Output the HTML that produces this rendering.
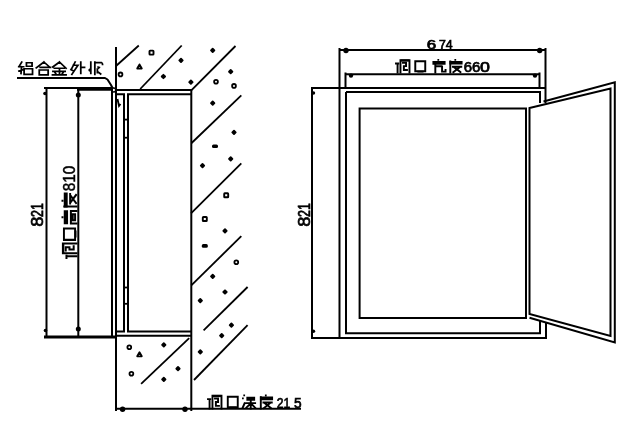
<!DOCTYPE html>
<html><head><meta charset="utf-8"><style>
html,body{margin:0;padding:0;background:#fff;}
svg{display:block;will-change:transform;}
text{font-family:"Liberation Sans",sans-serif;fill:#000;}
</style></head><body>
<svg width="640" height="444" viewBox="0 0 640 444" stroke="#000" stroke-width="2">
<rect x="0" y="0" width="640" height="444" fill="#fff" stroke="none"/>
<path transform="translate(18,61.3) scale(0.9375,0.8750)" d="M4,0.8 L1,6 M0.8,6.2 H6 M3.8,6.2 L3.2,14 M1,11 L5.5,9.5 M9,1.7 H15 V5.6 H9 Z M6.5,8.5 H15.5 V15 H6.5 Z" fill="none" stroke="#000" stroke-width="1.876" stroke-linecap="square"/>
<path transform="translate(35.5,61.3) scale(0.9375,0.8750)" d="M9,0.8 L0.8,7.5 M9,0.8 L15,6.5 M5,7 H16 M4,10 H13.5 V15.5 H4 Z" fill="none" stroke="#000" stroke-width="1.876" stroke-linecap="square"/>
<path transform="translate(52,61.3) scale(0.9375,0.8750)" d="M8,0.8 L0.8,6.5 M8,0.8 L15,8 M2.5,8 H13 M1,11.5 H14 M8,8 V15 M3,12.5 L4.5,15 M12,12.5 L10.5,15 M0.5,15.5 H15" fill="none" stroke="#000" stroke-width="1.876" stroke-linecap="square"/>
<path transform="translate(70,61.3) scale(0.9375,0.8750)" d="M5.5,0.8 L1.5,9 M3.5,4.5 H8.5 L2,15 M1,9.5 L4,11 M11.5,0.8 V14 M11.5,7 H15.5" fill="none" stroke="#000" stroke-width="1.876" stroke-linecap="square"/>
<path transform="translate(88,61.3) scale(0.9375,0.8750)" d="M3,0.8 V14 M7.3,0.8 V15 M7.3,1.5 H14.5 Q15.5,2 15.5,3.5 M10,9 V13 M11,12.5 L13.5,14.5" fill="none" stroke="#000" stroke-width="1.876" stroke-linecap="square"/><path transform="translate(88,61.3) scale(0.9375,0.8750)" d="M0.5,9 L3,7.5 L3,12.5 L0.5,11 Z M10,5.5 L13.5,6.5 L11.5,9 L10,8 Z" fill="#000" stroke="none"/>
<path d="M17,78 H105 L107.5,79.5 L111,85 L113.5,90" fill="none" stroke-width="2" stroke-linejoin="round"/>
<line x1="44" y1="88" x2="113" y2="88" stroke-width="2"/>
<line x1="77" y1="89.5" x2="113" y2="89.5" stroke-width="2.5"/>
<line x1="113" y1="90" x2="191" y2="90" stroke-width="2"/>
<circle cx="113.8" cy="90" r="2" fill="#fff" stroke-width="1.6"/>
<line x1="46.5" y1="88" x2="46.5" y2="338" stroke-width="2"/>
<line x1="78.3" y1="88" x2="78.3" y2="338" stroke-width="2"/>
<circle cx="45" cy="93.5" r="1.8" fill="#000" stroke="none"/>
<circle cx="78.3" cy="95" r="2.5" fill="#000" stroke="none"/>
<circle cx="45.5" cy="330.5" r="1.8" fill="#000" stroke="none"/>
<circle cx="78.3" cy="329" r="2.5" fill="#000" stroke="none"/>
<line x1="44" y1="337" x2="116" y2="337" stroke-width="3"/>
<line x1="112" y1="89" x2="112" y2="337" stroke-width="2"/>
<line x1="116" y1="47" x2="116" y2="411" stroke-width="2"/>
<path d="M116,94.2 H124 V331.6 H116" fill="none"/>
<path d="M191,94.2 H128 V331.6 H191" fill="none"/>
<line x1="116" y1="335.8" x2="192" y2="335.8" stroke-width="2"/>
<line x1="191.3" y1="89" x2="191.3" y2="411" stroke-width="2"/>
<line x1="123" y1="119.6" x2="129" y2="119.6" stroke-width="1.8"/>
<line x1="123" y1="137.7" x2="129" y2="137.7" stroke-width="1.8"/>
<line x1="123" y1="287.5" x2="129" y2="287.5" stroke-width="1.8"/>
<line x1="123" y1="303.8" x2="129" y2="303.8" stroke-width="1.8"/>
<path d="M117.5,99 L119,106 L120.5,104" fill="none" stroke-width="1.8"/>
<line x1="115" y1="408.7" x2="301" y2="408.7" stroke-width="2"/>
<circle cx="122.6" cy="409.2" r="2.7" fill="#000" stroke="none"/>
<circle cx="185" cy="409.2" r="2.7" fill="#000" stroke="none"/>
<line x1="116" y1="66" x2="138.8" y2="45.5" stroke-width="1.8"/>
<line x1="140.2" y1="89" x2="181.7" y2="45.5" stroke-width="1.8"/>
<line x1="191.3" y1="90.4" x2="235.5" y2="46" stroke-width="1.8"/>
<line x1="191.6" y1="143" x2="241.3" y2="95.3" stroke-width="1.8"/>
<line x1="191" y1="213.3" x2="241.3" y2="163.3" stroke-width="1.8"/>
<line x1="191.3" y1="285.3" x2="241.3" y2="236.2" stroke-width="1.8"/>
<line x1="203.6" y1="330.4" x2="247.6" y2="287" stroke-width="1.8"/>
<line x1="194" y1="380" x2="247.6" y2="325.2" stroke-width="1.8"/>
<line x1="141.1" y1="383.8" x2="189.2" y2="338.2" stroke-width="1.8"/>
<rect x="149.5" y="50.6" width="4" height="4" rx="0.6" fill="none" stroke-width="1.9"/>
<path d="M139.5,64.39999999999999 L141.8,68.5 H137.2 Z" fill="none" stroke-width="1.8" stroke-linejoin="round"/>
<circle cx="120.5" cy="74.4" r="1.9" fill="none" stroke-width="1.8"/>
<rect x="161.3" y="74.4" width="4.2" height="4.2" rx="0.9" transform="rotate(45 163.4 76.5)" fill="#000" stroke="none"/>
<rect x="178.9" y="58.199999999999996" width="4.2" height="4.2" rx="0.9" transform="rotate(45 181 60.3)" fill="#000" stroke="none"/>
<rect x="188.8" y="80.0" width="4.2" height="4.2" rx="0.9" transform="rotate(45 190.9 82.1)" fill="#000" stroke="none"/>
<rect x="210.6" y="48.199999999999996" width="4.2" height="4.2" rx="0.9" transform="rotate(45 212.7 50.3)" fill="#000" stroke="none"/>
<rect x="228.6" y="69.60000000000001" width="4.2" height="4.2" rx="0.9" transform="rotate(45 230.7 71.7)" fill="#000" stroke="none"/>
<circle cx="216" cy="81.8" r="1.9" fill="none" stroke-width="1.8"/>
<circle cx="234" cy="85.9" r="1.9" fill="none" stroke-width="1.8"/>
<rect x="210.6" y="101.10000000000001" width="4.2" height="4.2" rx="0.9" transform="rotate(45 212.7 103.2)" fill="#000" stroke="none"/>
<rect x="231.9" y="130.20000000000002" width="4.2" height="4.2" rx="0.9" transform="rotate(45 234 132.3)" fill="#000" stroke="none"/>
<rect x="212" y="144.39999999999998" width="6" height="3.6" rx="1.5" fill="#000" stroke="none"/>
<rect x="200.4" y="163.5" width="4.2" height="4.2" rx="0.9" transform="rotate(45 202.5 165.6)" fill="#000" stroke="none"/>
<rect x="228.6" y="156.70000000000002" width="4.2" height="4.2" rx="0.9" transform="rotate(45 230.7 158.8)" fill="#000" stroke="none"/>
<rect x="224.2" y="193.3" width="4" height="4" rx="0.6" fill="none" stroke-width="1.9"/>
<rect x="202.8" y="217" width="4" height="4" rx="0.6" fill="none" stroke-width="1.9"/>
<rect x="222.9" y="228.70000000000002" width="4.2" height="4.2" rx="0.9" transform="rotate(45 225 230.8)" fill="#000" stroke="none"/>
<rect x="201.8" y="244.1" width="6" height="3.6" rx="1.5" fill="#000" stroke="none"/>
<circle cx="236.3" cy="262.3" r="1.9" fill="none" stroke-width="1.8"/>
<rect x="210.6" y="274.2" width="4.2" height="4.2" rx="0.9" transform="rotate(45 212.7 276.3)" fill="#000" stroke="none"/>
<rect x="222.9" y="289.9" width="4.2" height="4.2" rx="0.9" transform="rotate(45 225 292)" fill="#000" stroke="none"/>
<rect x="198.20000000000002" y="298.5" width="4.2" height="4.2" rx="0.9" transform="rotate(45 200.3 300.6)" fill="#000" stroke="none"/>
<rect x="229.3" y="323.09999999999997" width="4.2" height="4.2" rx="0.9" transform="rotate(45 231.4 325.2)" fill="#000" stroke="none"/>
<rect x="219.6" y="333.5" width="4.2" height="4.2" rx="0.9" transform="rotate(45 221.7 335.6)" fill="#000" stroke="none"/>
<rect x="198.20000000000002" y="349.7" width="4.2" height="4.2" rx="0.9" transform="rotate(45 200.3 351.8)" fill="#000" stroke="none"/>
<circle cx="129.3" cy="347.3" r="1.9" fill="none" stroke-width="1.8"/>
<path d="M139.5,352.2 L141.8,356.29999999999995 H137.2 Z" fill="none" stroke-width="1.8" stroke-linejoin="round"/>
<rect x="161.70000000000002" y="342.79999999999995" width="4.2" height="4.2" rx="0.9" transform="rotate(45 163.8 344.9)" fill="#000" stroke="none"/>
<circle cx="131.4" cy="373.7" r="1.9" fill="none" stroke-width="1.8"/>
<rect x="175.9" y="366.5" width="4.2" height="4.2" rx="0.9" transform="rotate(45 178 368.6)" fill="#000" stroke="none"/>
<rect x="161.70000000000002" y="377.29999999999995" width="4.2" height="4.2" rx="0.9" transform="rotate(45 163.8 379.4)" fill="#000" stroke="none"/>
<text transform="translate(42.90,225.90) rotate(-90) scale(1.121,1)" x="-0.81" font-size="16.29" stroke="#000" stroke-width="0.7" style="stroke:#000">8</text>
<text transform="translate(42.90,216.30) rotate(-90) scale(0.762,1)" x="-0.81" font-size="16.29" stroke="#000" stroke-width="0.7" style="stroke:#000">21</text>
<g transform="translate(61.5,258) rotate(-90)"><path transform="translate(0,0) scale(0.9375,0.9375)" d="M0,5.3 H2.5 M1.8,5.3 V16 M5.1,16 V1.5 H15.4 V16 M8,4.5 H11.5 V8.5 H9 V13 H12.5" fill="none" stroke="#000" stroke-width="2.133" stroke-linecap="square"/><path transform="translate(0,0) scale(0.9375,0.9375)" d="M5.1,0.5 H15.4 V3 H5.1 Z" fill="#000" stroke="none"/></g>
<g transform="translate(61.5,242.5) rotate(-90)"><path transform="translate(0,0) scale(1.0000,0.9375)" d="M2.6,2.6 H14 V14.5 H2.6 Z" fill="none" stroke="#000" stroke-width="2.065" stroke-linecap="square"/><path transform="translate(0,0) scale(1.0000,0.9375)" d="M5,14 H12 V16 H5 Z" fill="#000" stroke="none"/></g>
<g transform="translate(61.5,225) rotate(-90)"><path transform="translate(0,0) scale(0.9688,0.9375)" d="M1.5,16 V10 H14.5 V16 M5,12 H11 V14.5 H5 Z" fill="none" stroke="#000" stroke-width="2.098" stroke-linecap="square"/><path transform="translate(0,0) scale(0.9688,0.9375)" d="M7,0 H9 V2 H7 Z M0.8,2.4 H15.2 V7 H0.8 Z" fill="#000" stroke="none"/></g>
<g transform="translate(61.5,208) rotate(-90)"><path transform="translate(0,0) scale(1.0000,0.9375)" d="M1.5,3 V16 M4.5,9.2 H14 M5.5,9.5 L13,15.5 M12.5,9.5 L5,15.5" fill="none" stroke="#000" stroke-width="2.065" stroke-linecap="square"/><path transform="translate(0,0) scale(1.0000,0.9375)" d="M6.2,0 H8.2 V2 H6.2 Z M0.5,2.4 H15.5 V6.6 H0.5 Z" fill="#000" stroke="none"/></g>
<text transform="translate(75.00,190.50) rotate(-90) scale(0.972,1)" x="-0.79" font-size="15.71" stroke="#000" stroke-width="0.5" style="stroke:#000">810</text>
<path transform="translate(208,394.5) scale(0.8750,0.8750)" d="M0,5.3 H2.5 M1.8,5.3 V16 M5.1,16 V1.5 H15.4 V16 M8,4.5 H11.5 V8.5 H9 V13 H12.5" fill="none" stroke="#000" stroke-width="2.171" stroke-linecap="square"/><path transform="translate(208,394.5) scale(0.8750,0.8750)" d="M5.1,0.5 H15.4 V3 H5.1 Z" fill="#000" stroke="none"/>
<path transform="translate(225.5,394.5) scale(0.8750,0.8750)" d="M2.6,2.6 H14 V14.5 H2.6 Z" fill="none" stroke="#000" stroke-width="2.171" stroke-linecap="square"/><path transform="translate(225.5,394.5) scale(0.8750,0.8750)" d="M5,14 H12 V16 H5 Z" fill="#000" stroke="none"/>
<path transform="translate(242,394.5) scale(0.8750,0.8750)" d="M0.8,15 L3,10 M5,9.8 H15 M10,7 V16 M10,10 L5,15 M10,10 L15,15" fill="none" stroke="#000" stroke-width="2.171" stroke-linecap="square"/><path transform="translate(242,394.5) scale(0.8750,0.8750)" d="M1.5,0 H3.5 V2 H1.5 Z M0,3.5 H2 V5.5 H0 Z M5,2.5 H15 V7 H5 Z" fill="#000" stroke="none"/>
<path transform="translate(259.5,394.5) scale(0.8750,0.8750)" d="M1.5,3 V16 M4.5,9.2 H14 M5.5,9.5 L13,15.5 M12.5,9.5 L5,15.5" fill="none" stroke="#000" stroke-width="2.171" stroke-linecap="square"/><path transform="translate(259.5,394.5) scale(0.8750,0.8750)" d="M6.2,0 H8.2 V2 H6.2 Z M0.5,2.4 H15.5 V6.6 H0.5 Z" fill="#000" stroke="none"/>
<text transform="translate(277.30,407.60) scale(0.791,1)" x="-0.77" font-size="15.43" stroke="#000" stroke-width="0.7" style="stroke:#000">21</text>
<text transform="translate(294.70,407.60) scale(0.888,1)" x="-0.77" font-size="15.43" stroke="#000" stroke-width="0.7" style="stroke:#000">5</text>
<line x1="339.5" y1="48" x2="339.5" y2="338" stroke-width="2"/>
<line x1="339.5" y1="50" x2="545.5" y2="50" stroke-width="2"/>
<line x1="545.5" y1="48" x2="545.5" y2="103" stroke-width="2"/>
<circle cx="346" cy="50.5" r="2.7" fill="#000" stroke="none"/>
<circle cx="539.7" cy="50.5" r="2.7" fill="#000" stroke="none"/>
<line x1="345.5" y1="72.5" x2="345.5" y2="88" stroke-width="2"/>
<line x1="345.5" y1="74.3" x2="539.5" y2="74.3" stroke-width="2"/>
<line x1="539.5" y1="72.5" x2="539.5" y2="88" stroke-width="2"/>
<circle cx="351" cy="75.6" r="2.2" fill="#000" stroke="none"/>
<circle cx="535" cy="75.6" r="2.2" fill="#000" stroke="none"/>
<text transform="translate(427.50,49.00) scale(1.319,1)" x="-0.64" font-size="12.86" stroke="#000" stroke-width="0.7" style="stroke:#000">6</text>
<text transform="translate(439.50,49.00) scale(0.957,1)" x="-0.64" font-size="12.86" stroke="#000" stroke-width="0.7" style="stroke:#000">74</text>
<path transform="translate(396,59) scale(0.8750,0.8438)" d="M0,5.3 H2.5 M1.8,5.3 V16 M5.1,16 V1.5 H15.4 V16 M8,4.5 H11.5 V8.5 H9 V13 H12.5" fill="none" stroke="#000" stroke-width="2.211" stroke-linecap="square"/><path transform="translate(396,59) scale(0.8750,0.8438)" d="M5.1,0.5 H15.4 V3 H5.1 Z" fill="#000" stroke="none"/>
<path transform="translate(413,59) scale(0.8750,0.8438)" d="M2.6,2.6 H14 V14.5 H2.6 Z" fill="none" stroke="#000" stroke-width="2.211" stroke-linecap="square"/><path transform="translate(413,59) scale(0.8750,0.8438)" d="M5,14 H12 V16 H5 Z" fill="#000" stroke="none"/>
<path transform="translate(432,59) scale(0.8750,0.8438)" d="M4,8.6 H11 M3.8,7 V16 M11.5,9.5 V15 H15.5 V13" fill="none" stroke="#000" stroke-width="2.211" stroke-linecap="square"/><path transform="translate(432,59) scale(0.8750,0.8438)" d="M6.2,0 H8.2 V2 H6.2 Z M0.5,2.4 H15.5 V6.8 H0.5 Z" fill="#000" stroke="none"/>
<path transform="translate(449,59) scale(0.8750,0.8438)" d="M1.5,3 V16 M4.5,9.2 H14 M5.5,9.5 L13,15.5 M12.5,9.5 L5,15.5" fill="none" stroke="#000" stroke-width="2.211" stroke-linecap="square"/><path transform="translate(449,59) scale(0.8750,0.8438)" d="M6.2,0 H8.2 V2 H6.2 Z M0.5,2.4 H15.5 V6.6 H0.5 Z" fill="#000" stroke="none"/>
<text transform="translate(464.40,71.50) scale(1.047,1)" x="-0.71" font-size="14.29" stroke="#000" stroke-width="0.7" style="stroke:#000">66</text>
<text transform="translate(481.00,71.50) scale(1.248,1)" x="-0.71" font-size="14.29" stroke="#000" stroke-width="0.7" style="stroke:#000">0</text>
<line x1="311" y1="88" x2="545.5" y2="88" stroke-width="2"/>
<line x1="312" y1="88" x2="312" y2="338" stroke-width="2"/>
<line x1="311" y1="338" x2="340" y2="338" stroke-width="2"/>
<circle cx="313.5" cy="93" r="1.7" fill="#000" stroke="none"/>
<circle cx="313.5" cy="331.3" r="1.7" fill="#000" stroke="none"/>
<text transform="translate(310.20,225.90) rotate(-90) scale(1.141,1)" x="-0.80" font-size="16.00" stroke="#000" stroke-width="0.7" style="stroke:#000">8</text>
<text transform="translate(310.20,216.30) rotate(-90) scale(0.775,1)" x="-0.80" font-size="16.00" stroke="#000" stroke-width="0.7" style="stroke:#000">21</text>
<path d="M339.5,338 H546 V323" fill="none"/>
<path d="M346,92 H540 V103" fill="none"/>
<path d="M346,92 V333.3 H540 V320" fill="none"/>
<path d="M359.6,108.5 H526 V318 H359.6 Z" fill="none"/>
<path d="M529.5,108 L610.5,88.5 V336 L529.5,314 Z" fill="none"/>
<path d="M543.5,101.5 L614.8,82.3 V342.5 L529.5,317.8" fill="none"/>
</svg>
</body></html>
